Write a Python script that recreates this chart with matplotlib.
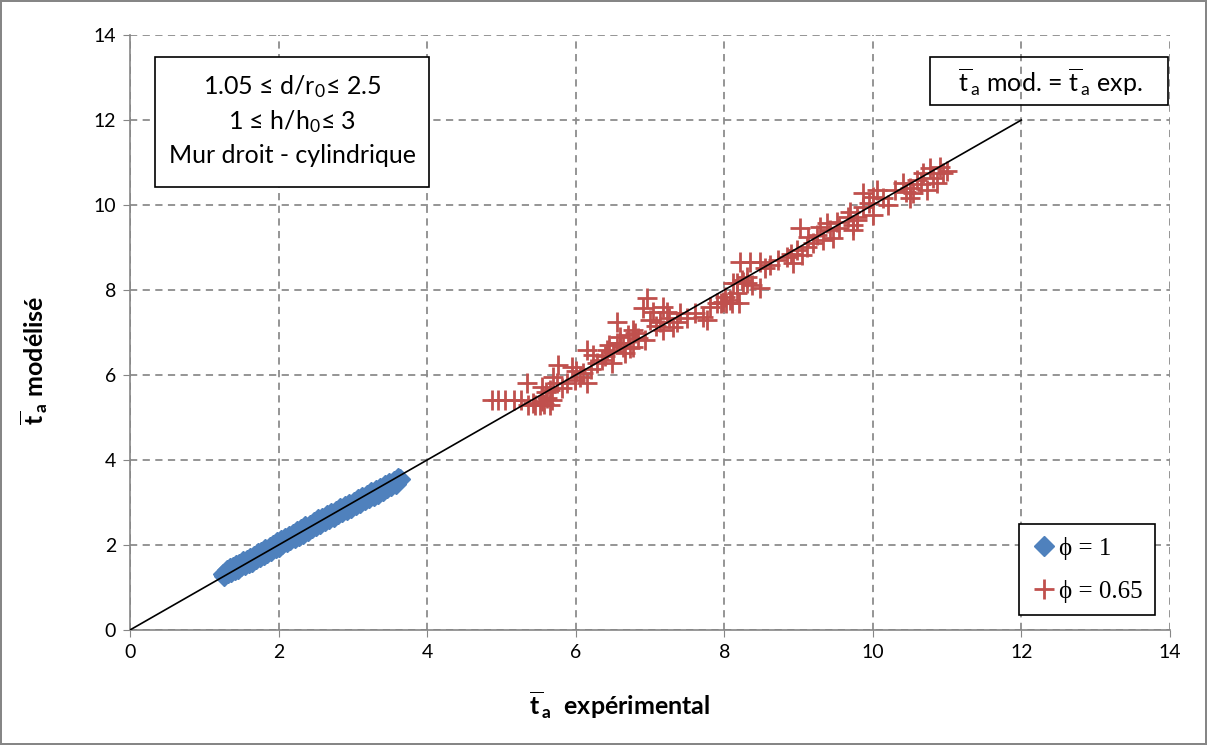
import matplotlib
matplotlib.use("Agg")
import matplotlib.pyplot as plt
from matplotlib.patches import Rectangle

# font setup (Calibri-like look)
plt.rcParams['font.family'] = ['Lato', 'DejaVu Sans']
plt.rcParams['mathtext.fontset'] = 'custom'
plt.rcParams['mathtext.rm'] = 'Lato'
plt.rcParams['mathtext.it'] = 'Lato'
plt.rcParams['mathtext.bf'] = 'Lato:bold'

# phi = 1 (blue diamonds)
blue_x = [1.25, 1.27, 1.30, 1.32, 1.35, 1.36, 1.38, 1.41, 1.43, 1.45,
          1.47, 1.50, 1.52, 1.55, 1.57, 1.60, 1.62, 1.64, 1.67, 1.70,
          1.72, 1.75, 1.77, 1.80, 1.82, 1.85, 1.88, 1.90, 1.93, 1.96,
          1.98, 2.00, 2.03, 2.05, 2.08, 2.11, 2.14, 2.16, 2.19, 2.22,
          2.25, 2.28, 2.30, 2.33, 2.36, 2.39, 2.42, 2.45, 2.48, 2.50,
          2.53, 2.56, 2.59, 2.62, 2.65, 2.68, 2.71, 2.74, 2.77, 2.80,
          2.83, 2.86, 2.89, 2.92, 2.95, 2.98, 3.01, 3.04, 3.07, 3.10,
          3.13, 3.16, 3.19, 3.22, 3.25, 3.28, 3.31, 3.34, 3.37, 3.40,
          3.43, 3.46, 3.49, 3.52, 3.55, 3.58, 3.61, 3.64]
blue_y = [1.32, 1.28, 1.40, 1.33, 1.45, 1.36, 1.48, 1.42, 1.53, 1.44,
          1.55, 1.50, 1.62, 1.52, 1.65, 1.58, 1.70, 1.60, 1.75, 1.66,
          1.80, 1.71, 1.84, 1.76, 1.90, 1.80, 1.95, 1.85, 2.00, 1.92,
          2.06, 1.96, 2.12, 2.02, 2.17, 2.06, 2.22, 2.12, 2.27, 2.17,
          2.32, 2.22, 2.38, 2.27, 2.44, 2.33, 2.48, 2.40, 2.55, 2.44,
          2.60, 2.50, 2.64, 2.56, 2.70, 2.60, 2.75, 2.66, 2.80, 2.72,
          2.86, 2.77, 2.91, 2.82, 2.96, 2.88, 3.02, 2.94, 3.08, 2.99,
          3.13, 3.05, 3.18, 3.10, 3.24, 3.15, 3.29, 3.21, 3.34, 3.27,
          3.40, 3.33, 3.45, 3.39, 3.50, 3.44, 3.57, 3.55]

# phi = 0.65 (red crosses)
red_x = [4.87, 4.95, 5.05, 5.17, 5.27, 5.36, 5.42, 5.45, 5.52, 5.55,
         5.58, 5.62, 5.65, 5.68, 5.34, 5.55, 5.60, 5.65, 5.75, 5.76,
         5.88, 5.95, 5.99, 6.06, 6.15, 6.10, 6.15, 6.23, 6.29, 6.35,
         6.42, 6.49, 6.55, 6.60, 6.66, 6.73, 6.80, 6.55, 6.96, 6.91,
         7.04, 7.17, 7.23, 7.13, 7.17, 7.31, 7.36, 6.77, 6.84, 6.93,
         6.60, 6.64, 6.50, 6.77, 7.50, 7.71, 7.77, 7.81, 7.90, 7.98,
         8.08, 8.17, 8.17, 8.25, 8.37, 7.95, 8.02, 8.10, 8.20, 8.01,
         8.12, 8.24, 8.31, 8.48, 8.21, 8.35, 8.48, 8.61, 8.72, 8.84,
         8.92, 8.98, 9.05, 9.11, 9.02, 9.13, 9.25, 9.29, 9.38, 9.33,
         9.42, 9.66, 9.73, 9.79, 9.46, 9.52, 9.69, 9.79, 9.73, 9.87,
         9.87, 10.00, 10.06, 10.00, 10.14, 10.20, 10.41, 10.50, 10.50, 10.59,
         10.68, 10.77, 10.81, 10.90, 10.94, 10.73, 10.54, 10.86, 5.70, 5.82,
         6.00, 6.20, 6.40, 6.45, 6.70, 7.00, 7.08, 7.25, 7.40, 7.60,
         8.30, 8.55, 8.90, 9.20, 9.55, 9.95, 10.30, 10.65, 11.00, 10.45]
red_y = [5.40, 5.40, 5.40, 5.40, 5.42, 5.30, 5.35, 5.29, 5.30, 5.38,
         5.32, 5.45, 5.29, 5.40, 5.81, 5.72, 5.60, 5.65, 5.81, 6.24,
         5.81, 6.19, 5.88, 5.95, 5.81, 6.05, 6.59, 6.47, 6.28, 6.35,
         6.59, 6.28, 6.75, 6.89, 6.52, 6.64, 6.99, 7.25, 7.81, 7.58,
         7.48, 7.60, 7.48, 7.25, 7.06, 7.13, 7.25, 7.06, 6.87, 6.82,
         6.75, 6.66, 6.54, 6.66, 7.34, 7.36, 7.29, 7.60, 7.69, 7.72,
         7.76, 7.93, 8.16, 8.19, 8.12, 7.69, 7.69, 7.69, 7.69, 7.84,
         8.16, 8.24, 8.16, 8.05, 8.66, 8.66, 8.66, 8.59, 8.70, 8.78,
         8.64, 8.94, 8.82, 9.01, 9.46, 9.25, 9.29, 9.48, 9.58, 9.18,
         9.41, 9.72, 9.53, 9.72, 9.22, 9.60, 9.84, 9.65, 9.41, 9.95,
         10.28, 10.19, 10.35, 9.76, 10.16, 10.00, 10.52, 10.40, 10.16, 10.59,
         10.75, 10.87, 10.64, 10.89, 10.75, 10.35, 10.28, 10.52, 5.95, 5.70,
         6.10, 6.15, 6.45, 6.70, 6.95, 7.30, 7.15, 7.35, 7.45, 7.45,
         8.30, 8.52, 8.85, 9.10, 9.45, 10.05, 10.35, 10.50, 10.80, 10.30]

line_x = [0, 12]
line_y = [0, 12]

blue = '#4F81BD'
red = '#C0504D'
gray = '#868686'

fig = plt.figure(figsize=(12.07, 7.45), dpi=100)
fig.patch.set_edgecolor(gray)
fig.patch.set_linewidth(1.5)
ax = fig.add_axes([0.1077, 0.1544, 0.8616, 0.7986])

ax.plot(blue_x, blue_y, linestyle='none', marker='D', ms=10, color=blue,
        mec=blue, label='\u03d5 = 1', zorder=3)
ax.plot(red_x, red_y, linestyle='none', marker='+', ms=14, mew=2.0,
        color=red, label='\u03d5 = 0.65', zorder=3)
ax.plot(line_x, line_y, color='black', lw=1.2, zorder=4)

ax.set_xlim(0, 14)
ax.set_ylim(0, 14)
ax.set_xticks(range(0, 15, 2))
ax.set_yticks(range(0, 15, 2))
ax.grid(True, linestyle=(0, (4, 3)), color='#8c8c8c', lw=1.3)
ax.set_axisbelow(True)
for s in ['top', 'right']:
    ax.spines[s].set_visible(False)
for s in ['left', 'bottom']:
    ax.spines[s].set_color(gray)
    ax.spines[s].set_linewidth(1.2)
ax.tick_params(direction='out', length=5, color=gray, labelsize=14,
               pad=5)

ax.set_xlabel(r'$\mathbf{\overline{t\,}_{a}}$  expérimental', fontsize=18,
              fontweight='bold')
ax.set_ylabel(r'$\mathbf{\overline{t\,}_{a}}$ modélisé', fontsize=18,
              fontweight='bold')
ax.xaxis.set_label_coords(0.471, -0.10)
ax.yaxis.set_label_coords(-0.077, 0.454)

# parameter box upper left
ax.add_patch(Rectangle((0.024, 0.745), 0.264, 0.218, transform=ax.transAxes,
                       facecolor='white', edgecolor='black', lw=1.2, zorder=5))
box_lines = [r'1.05 ≤ d/r$_0$≤ 2.5', r'1 ≤ h/h$_0$≤ 3', 'Mur droit - cylindrique']
for txt, yy in zip(box_lines, [0.913, 0.855, 0.798]):
    ax.text(0.156, yy, txt, transform=ax.transAxes, ha='center', va='center',
            fontsize=18, zorder=6)

# line label box upper right
ax.add_patch(Rectangle((0.769, 0.882), 0.229, 0.081, transform=ax.transAxes,
                       facecolor='none', edgecolor='black', lw=1.2, zorder=5))
ax.text(0.885, 0.921, r'$\overline{\mathrm{t\,}}_{\mathrm{a}}$ mod. = $\overline{\mathrm{t\,}}_{\mathrm{a}}$ exp.',
        transform=ax.transAxes, ha='center', va='center', fontsize=18, zorder=6)

leg = ax.legend(loc='lower right', bbox_to_anchor=(0.986, 0.025),
                prop={'family': ['Liberation Serif', 'DejaVu Serif'], 'size': 18},
                frameon=True, fancybox=False, edgecolor='black',
                handletextpad=0.1, handlelength=1.0, labelspacing=0.8,
                borderpad=0.5, borderaxespad=0)
leg.get_frame().set_linewidth(1.2)
leg.get_frame().set_alpha(1)

fig.savefig('out.png', dpi=100, edgecolor=fig.get_edgecolor())
